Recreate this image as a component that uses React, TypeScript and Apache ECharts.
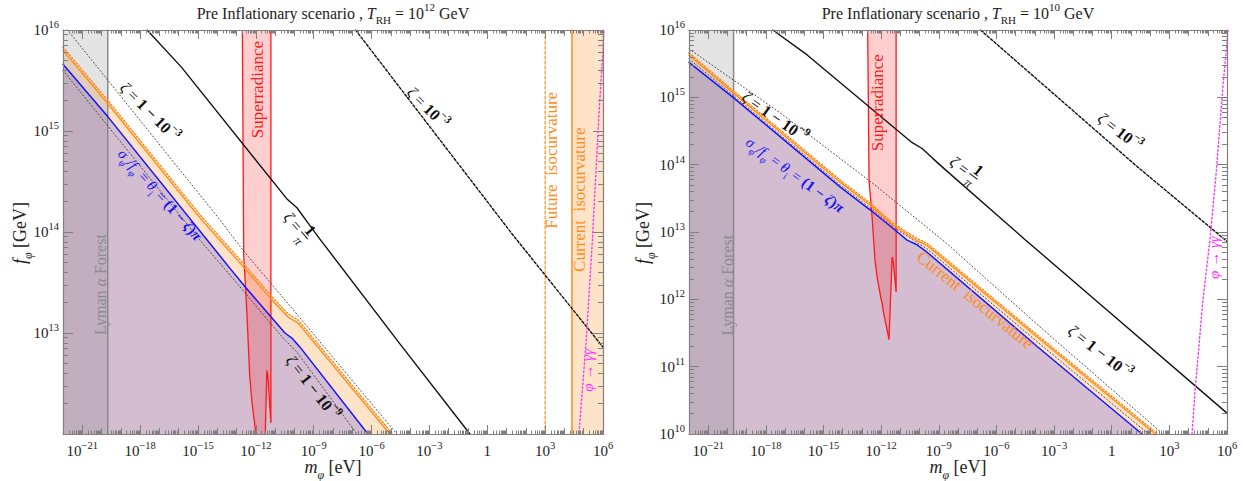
import React, { useEffect, useRef } from "react";
import * as echarts from "echarts";

const SERIF = '"Liberation Serif", "DejaVu Serif", serif';

// ---------- axes (log10 units) ----------
const X_RANGE = [-22, 6];
const Y_RANGE_LEFT = [12, 16];
const Y_RANGE_RIGHT = [10, 16];
const X_TICK_LABELS = [-21, -18, -15, -12, -9, -6, -3, 0, 3, 6];
const Y_TICK_LABELS_LEFT = [13, 14, 15, 16];
const Y_TICK_LABELS_RIGHT = [10, 11, 12, 13, 14, 15, 16];

// ---------- data: [log10(m_phi / eV), log10(f_phi / GeV)] ----------
const LYMAN_ALPHA_MASS = -19.68;
const FUTURE_ISO_MASS = 3.0;
const CURRENT_ISO_MASS = 4.39;

// shared curves
const ZETA_INV_PI = [[-17.64, 16.0], [-15.85, 15.63], [-10.4, 14.33], [-9.87, 14.24], [-9.3, 14.09], [-8.68, 13.93], [-4.52, 12.89], [-0.9, 12.0], [6.0, 10.31]];
const ZETA_1E3 = [[-6.83, 16.0], [1.33, 13.97], [6.0, 12.86]];
const PHI_GAMMA_GAMMA = [[4.18, 10.0], [4.34, 10.65], [4.75, 12.0], [5.12, 12.9], [5.45, 13.92], [5.8, 15.2], [6.0, 15.8], [6.05, 16.0]];
const SUPERRADIANCE = [[-12.7, 16.0], [-12.63, 13.77], [-12.47, 13.22], [-12.32, 12.58], [-12.21, 12.33], [-12.0, 12.0], [-11.95, 11.95], [-11.9, 11.84], [-11.59, 11.4], [-11.43, 12.63], [-11.38, 12.58], [-11.22, 12.11], [-11.22, 16.0]];

// left panel, T_RH = 1e12 GeV
const L_THETA = [[-22, 15.66], [-19.67, 15.14], [-13.34, 13.64], [-12.57, 13.46], [-11.22, 13.16], [-10.49, 13.0], [-10.13, 12.95], [-9.71, 12.86], [-6.19, 12.0]];
const L_ISO = [[-22, 15.8], [-19.67, 15.27], [-14.9, 14.14], [-12.57, 13.64], [-11.27, 13.35], [-10.34, 13.16], [-9.82, 13.1], [-5.05, 12.0]];
const L_ISO_DOTS = [[-22, 15.83], [-19.67, 15.3], [-14.9, 14.17], [-12.57, 13.67], [-11.27, 13.38], [-10.34, 13.19], [-9.82, 13.13], [-4.92, 12.0]];
const L_ZETA_1M3 = [[-22, 16.06], [-21.64, 15.97], [-13.86, 14.12], [-12.67, 13.82], [-9.71, 13.15], [-4.69, 12.0]];
const L_ZETA_1M9 = [[-22, 15.6], [-14.9, 13.92], [-12.57, 13.4], [-11.27, 13.1], [-10.49, 12.93], [-9.87, 12.81], [-6.76, 12.0]];

// right panel, T_RH = 1e10 GeV
const R_THETA = [[-22, 15.52], [-19.71, 15.0], [-14.14, 13.67], [-12.58, 13.33], [-11.28, 13.03], [-10.65, 12.88], [-10.13, 12.81], [-9.61, 12.7], [-3.88, 11.3], [1.58, 10.0]];
const R_ISO = [[-22, 15.63], [-19.71, 15.07], [-14.14, 13.74], [-12.58, 13.4], [-11.38, 13.1], [-10.13, 12.87], [-9.61, 12.8], [-3.88, 11.44], [2.26, 10.0]];
const R_ISO_DOTS = [[-22, 15.66], [-19.71, 15.1], [-14.14, 13.77], [-12.58, 13.43], [-11.38, 13.13], [-10.13, 12.9], [-9.61, 12.83], [-3.88, 11.47], [2.39, 10.0]];
const R_ZETA_1M9 = [[-22, 15.57], [-19.71, 15.03], [-14.14, 13.7], [-12.58, 13.36], [-11.3, 13.06], [-10.13, 12.84], [-9.61, 12.75], [-3.88, 11.37], [1.92, 10.0]];
const R_ZETA_1M3 = [[-22, 15.72], [-17.26, 14.77], [-12.47, 13.73], [-8.67, 12.85], [-3.73, 11.59], [2.67, 10.0]];

// ---------- styles ----------
const GRAY = "#808080";
const BLUE = "#1414ff";
const ORANGE = "#ff8c1a";
const RED = "#ff1a1a";
const MAGENTA = "#ff33ff";
const PURPLE_FILL = "#d4bdd1";
const ORANGE_FILL = "#fde3c8";

const richFor = (size: number) => {
  const lh = Math.round(size * 1.5);
  const s = Math.round(size * 0.68);
  return {
    r: { fontFamily: SERIF, fontSize: size, lineHeight: lh },
    i: { fontFamily: SERIF, fontSize: size, lineHeight: lh, fontStyle: "italic" },
    b: { fontFamily: SERIF, fontSize: size, lineHeight: lh, fontWeight: "bold" },
    bi: { fontFamily: SERIF, fontSize: size, lineHeight: lh, fontWeight: "bold", fontStyle: "italic" },
    sup: { fontFamily: SERIF, fontSize: s, verticalAlign: "top" },
    bsup: { fontFamily: SERIF, fontSize: s, fontWeight: "bold", verticalAlign: "top" },
    sub: { fontFamily: SERIF, fontSize: s, verticalAlign: "bottom" },
    isub: { fontFamily: SERIF, fontSize: s, fontStyle: "italic", verticalAlign: "bottom" },
  };
};

const TXT_Z3 = "{i|ζ}{r| = }{b|1 − 10}{bsup|−3}";
const TXT_Z9 = "{i|ζ}{r| = }{b|1 − 10}{bsup|−9}";
const TXT_Z1E3 = "{i|ζ}{r| = }{b|10}{bsup|−3}";
const TXT_THETA = "{i|σ}{isub|φ}{i|/f}{isub|φ}{r| = }{i|θ}{sub|i}{r| = }{b|(1 − }{bi|ζ}{b|)}{bi|π}";
const TXT_SR = "{r|Superradiance}";
const TXT_LYMAN = "{r|Lyman }{i|α}{r| Forest}";
const TXT_FUTURE = "{r|Future  isocurvature}";
const TXT_CURRENT = "{r|Current  isocurvature}";
const TXT_GAMMA = "{i|φ}{r| → }{i|γγ}";

type Lab = { x: number; y: number; rot: number; color: string; size: number; text?: string; frac?: boolean };

const LEFT_LABELS: Lab[] = [
  { x: -11.94, y: 15.41, rot: 90, color: RED, size: 17, text: TXT_SR },
  { x: -17.49, y: 15.19, rot: -45, color: "#111", size: 16, text: TXT_Z3 },
  { x: -16.97, y: 14.37, rot: -48, color: BLUE, size: 15, text: TXT_THETA },
  { x: -9.71, y: 14.02, rot: -50, color: "#111", size: 16, frac: true },
  { x: -3.08, y: 15.23, rot: -45, color: "#111", size: 16, text: TXT_Z1E3 },
  { x: 3.35, y: 14.71, rot: 90, color: ORANGE, size: 17, text: TXT_FUTURE },
  { x: 4.8, y: 14.32, rot: 90, color: ORANGE, size: 17, text: TXT_CURRENT },
  { x: 5.22, y: 12.63, rot: 90, color: MAGENTA, size: 15, text: TXT_GAMMA },
  { x: -20.08, y: 13.48, rot: 90, color: "#8c8c8c", size: 16, text: TXT_LYMAN },
  { x: -9.04, y: 12.46, rot: -52, color: "#111", size: 16, text: TXT_Z9 },
];

const RIGHT_LABELS: Lab[] = [
  { x: -12.21, y: 14.92, rot: 90, color: RED, size: 17, text: TXT_SR },
  { x: -17.52, y: 14.71, rot: -35, color: "#111", size: 16, text: TXT_Z9 },
  { x: -16.48, y: 13.85, rot: -36, color: BLUE, size: 15, text: TXT_THETA },
  { x: -7.48, y: 13.89, rot: -38, color: "#111", size: 16, frac: true },
  { x: 0.44, y: 14.49, rot: -38, color: "#111", size: 16, text: TXT_Z1E3 },
  { x: -7.11, y: 11.99, rot: -39, color: ORANGE, size: 17, text: TXT_CURRENT },
  { x: -0.6, y: 11.22, rot: -38, color: "#111", size: 16, text: TXT_Z3 },
  { x: -20.02, y: 12.21, rot: 90, color: "#8c8c8c", size: 16, text: TXT_LYMAN },
  { x: 5.33, y: 12.62, rot: 90, color: MAGENTA, size: 15, text: TXT_GAMMA },
];

// ---------- helpers ----------
const decades = (a: number, b: number) => {
  const r: number[] = [];
  for (let v = a; v <= b; v++) r.push(v);
  return r;
};
const minors = (a: number, b: number) => {
  const r: number[] = [];
  for (let d = a; d < b; d++) for (let k = 2; k <= 9; k++) r.push(d + Math.log10(k));
  return r;
};
const fmtPow = (v: number) => {
  const n = Math.round(v);
  if (n === 0) return "{b|1}";
  return `{b|10}{s|${n < 0 ? "\u2212" + Math.abs(n) : n}}`;
};
const TICK_RICH = {
  b: { fontFamily: SERIF, fontSize: 15, lineHeight: 22, color: "#222" },
  s: { fontFamily: SERIF, fontSize: 10.5, verticalAlign: "top", color: "#222" },
};

function tick(vals: number[], len: number) {
  return { show: true, inside: true, length: len, customValues: vals, lineStyle: { color: GRAY, width: 1 } };
}

function xAxesFor(grid: number) {
  const base: any = {
    type: "value", gridIndex: grid, min: X_RANGE[0], max: X_RANGE[1], z: 10,
    splitLine: { show: false }, axisLine: { show: false, onZero: false }, axisLabel: { show: false },
  };
  const out: any[] = [];
  for (const pos of ["bottom", "top"]) {
    out.push({
      ...base, position: pos,
      axisLine: { show: true, onZero: false, lineStyle: { color: GRAY, width: 1.2 } },
      axisTick: tick(X_TICK_LABELS, 9),
      axisLabel: pos === "bottom"
        ? { show: true, customValues: X_TICK_LABELS, formatter: fmtPow, rich: TICK_RICH, margin: 6 }
        : { show: false },
    });
    out.push({ ...base, position: pos, axisTick: tick(decades(X_RANGE[0], X_RANGE[1]), 6) });
    out.push({ ...base, position: pos, axisTick: tick(minors(X_RANGE[0], X_RANGE[1]), 3.5) });
  }
  return out;
}

function yAxesFor(grid: number, range: number[], labels: number[]) {
  const base: any = {
    type: "value", gridIndex: grid, min: range[0], max: range[1], z: 10,
    splitLine: { show: false }, axisLine: { show: false, onZero: false }, axisLabel: { show: false },
  };
  const out: any[] = [];
  for (const pos of ["left", "right"]) {
    out.push({
      ...base, position: pos,
      axisLine: { show: true, onZero: false, lineStyle: { color: GRAY, width: 1.2 } },
      axisTick: tick(decades(range[0], range[1]), 10),
      axisLabel: pos === "left"
        ? { show: true, customValues: labels, formatter: fmtPow, rich: TICK_RICH, margin: 4 }
        : { show: false },
    });
    out.push({ ...base, position: pos, axisTick: tick(minors(range[0], range[1]), 5) });
  }
  return out;
}

type Poly = { pts: number[][]; fill: string; stroke?: string; lineWidth?: number };

function fillSeries(xi: number, yi: number, polys: Poly[], z: number) {
  return {
    type: "custom", xAxisIndex: xi, yAxisIndex: yi, z, silent: true,
    data: [[0, 0]],
    renderItem: (params: any, api: any) => {
      const cs = params.coordSys;
      return {
        type: "group",
        clipPath: { type: "rect", shape: { x: cs.x, y: cs.y, width: cs.width, height: cs.height } },
        children: polys.map((p) => ({
          type: "polygon",
          shape: { points: p.pts.map((q) => api.coord(q)) },
          style: { fill: p.fill, stroke: p.stroke || null, lineWidth: p.lineWidth || 0 },
        })),
      };
    },
  };
}

function lineSeries(xi: number, yi: number, data: number[][], color: string, width: number, type: any, z = 5) {
  return {
    type: "line", xAxisIndex: xi, yAxisIndex: yi, data, symbol: "none", silent: true, z,
    lineStyle: { color, width, type, cap: "round" }, clip: true,
  };
}

function labelSeries(labels: Lab[], xi: number, yi: number) {
  return {
    type: "custom", xAxisIndex: xi, yAxisIndex: yi, z: 20, silent: true,
    data: labels.map((l, i) => [l.x, l.y, i]),
    renderItem: (_params: any, api: any) => {
      const l = labels[api.value(2)];
      const p = api.coord([api.value(0), api.value(1)]);
      const rich = richFor(l.size);
      const rotation = (l.rot * Math.PI) / 180;
      if (l.frac) {
        const small = richFor(Math.round(l.size * 0.8));
        return {
          type: "group", x: p[0], y: p[1], rotation,
          children: [
            { type: "text", x: -1, y: 0, style: { text: "{i|ζ}{r| =}", rich, fill: l.color, align: "right", verticalAlign: "middle" } },
            { type: "text", x: 7, y: -8, style: { text: "{b|1}", rich, fill: l.color, align: "center", verticalAlign: "middle" } },
            { type: "line", shape: { x1: 2, y1: 0, x2: 12, y2: 0 }, style: { stroke: l.color, lineWidth: 1 } },
            { type: "text", x: 7, y: 8, style: { text: "{i|π}", rich: small, fill: l.color, align: "center", verticalAlign: "middle" } },
          ],
        };
      }
      return {
        type: "text", x: p[0], y: p[1], rotation,
        style: { text: l.text, rich, fill: l.color, align: "center", verticalAlign: "middle" },
      };
    },
  };
}

function panelSeries(xi: number, yi: number, yr: number[], left: boolean) {
  const theta = left ? L_THETA : R_THETA;
  const iso = left ? L_ISO : R_ISO;
  const isoDots = left ? L_ISO_DOTS : R_ISO_DOTS;
  const z13 = left ? L_ZETA_1M3 : R_ZETA_1M3;
  const z19 = left ? L_ZETA_1M9 : R_ZETA_1M9;
  const x0 = X_RANGE[0];
  const x1 = X_RANGE[1];
  const series: any[] = [];
  series.push(fillSeries(xi, yi, [{ pts: [...iso, [x0, yr[0]]], fill: ORANGE_FILL }], 1));
  series.push(fillSeries(xi, yi, [{ pts: [...theta, [x0, yr[0]]], fill: PURPLE_FILL }], 2));
  if (left) {
    series.push(fillSeries(xi, yi, [{ pts: [[CURRENT_ISO_MASS, yr[0]], [CURRENT_ISO_MASS, yr[1]], [x1, yr[1]], [x1, yr[0]]], fill: ORANGE_FILL }], 2));
  }
  series.push(fillSeries(xi, yi, [{ pts: [[x0, yr[0]], [x0, yr[1]], [LYMAN_ALPHA_MASS, yr[1]], [LYMAN_ALPHA_MASS, yr[0]]], fill: "rgba(120,120,120,0.2)" }], 3));
  series.push(fillSeries(xi, yi, [{ pts: SUPERRADIANCE, fill: "rgba(255,30,30,0.22)", stroke: RED, lineWidth: 1.3 }], 4));
  series.push(lineSeries(xi, yi, [[LYMAN_ALPHA_MASS, yr[0]], [LYMAN_ALPHA_MASS, yr[1]]], "#8a8a8a", 1.5, "solid"));
  if (left) {
    series.push(lineSeries(xi, yi, [[CURRENT_ISO_MASS, yr[0]], [CURRENT_ISO_MASS, yr[1]]], ORANGE, 1.5, "solid"));
    series.push(lineSeries(xi, yi, [[FUTURE_ISO_MASS, yr[0]], [FUTURE_ISO_MASS, yr[1]]], ORANGE, 1.2, [3, 2]));
  }
  series.push(lineSeries(xi, yi, z13, "#333", 0.9, [1, 2.5]));
  series.push(lineSeries(xi, yi, z19, "#333", 0.9, [1, 2.5]));
  series.push(lineSeries(xi, yi, theta, BLUE, 1.5, "solid", 6));
  series.push(lineSeries(xi, yi, isoDots, ORANGE, 1.6, [1.2, 2.2], 6));
  series.push(lineSeries(xi, yi, iso, ORANGE, 1.4, "solid", 6));
  series.push(lineSeries(xi, yi, ZETA_INV_PI, "#111", 1.4, "solid"));
  series.push(lineSeries(xi, yi, ZETA_1E3, "#111", 1.4, [2.5, 2]));
  series.push(lineSeries(xi, yi, PHI_GAMMA_GAMMA, MAGENTA, 1.4, [1.5, 2.5]));
  series.push(labelSeries(left ? LEFT_LABELS : RIGHT_LABELS, xi, yi));
  return series;
}

const TITLE_RICH = {
  ...richFor(16),
  sub: { fontFamily: SERIF, fontSize: 11, verticalAlign: "bottom" },
};
const NAME_RICH = {
  ...richFor(18),
  isub: { fontFamily: SERIF, fontSize: 12, fontStyle: "italic", verticalAlign: "bottom" },
};

function graphicTexts() {
  const titleL = "{r|Pre Inflationary scenario , }{i|T}{sub|RH}{r| = 10}{sup|12}{r| GeV}";
  const titleR = "{r|Pre Inflationary scenario , }{i|T}{sub|RH}{r| = 10}{sup|10}{r| GeV}";
  const xName = "{i|m}{isub|φ}{r| [eV]}";
  const yName = "{i|f}{isub|φ}{r| [GeV]}";
  const t = (x: number, y: number, text: string, rich: any, rot = 0) => ({
    type: "text", x, y, rotation: rot,
    style: { text, rich, fill: "#222", align: "center", verticalAlign: "middle" },
  });
  return [
    t(333, 13, titleL, TITLE_RICH),
    t(958, 13, titleR, TITLE_RICH),
    t(333, 467, xName, NAME_RICH),
    t(958, 467, xName, NAME_RICH),
    t(20, 233, yName, NAME_RICH, Math.PI / 2),
    t(643, 233, yName, NAME_RICH, Math.PI / 2),
  ];
}

export default function App() {
  const ref = useRef<HTMLDivElement>(null);
  useEffect(() => {
    if (!ref.current) return;
    const chart = echarts.init(ref.current, null, { renderer: "svg" });
    const option: any = {
      animation: false,
      backgroundColor: "#fff",
      grid: [
        { left: 63, top: 30, width: 540, height: 404 },
        { left: 689, top: 30, width: 538, height: 404 },
      ],
      xAxis: [...xAxesFor(0), ...xAxesFor(1)],
      yAxis: [...yAxesFor(0, Y_RANGE_LEFT, Y_TICK_LABELS_LEFT), ...yAxesFor(1, Y_RANGE_RIGHT, Y_TICK_LABELS_RIGHT)],
      series: [...panelSeries(0, 0, Y_RANGE_LEFT, true), ...panelSeries(6, 4, Y_RANGE_RIGHT, false)],
      graphic: graphicTexts(),
    };
    chart.setOption(option);
    return () => chart.dispose();
  }, []);
  return (
    <div
      ref={ref}
      style={{ position: "fixed", left: 0, top: 0, width: 1245, height: 481, background: "#fff" }}
    />
  );
}
